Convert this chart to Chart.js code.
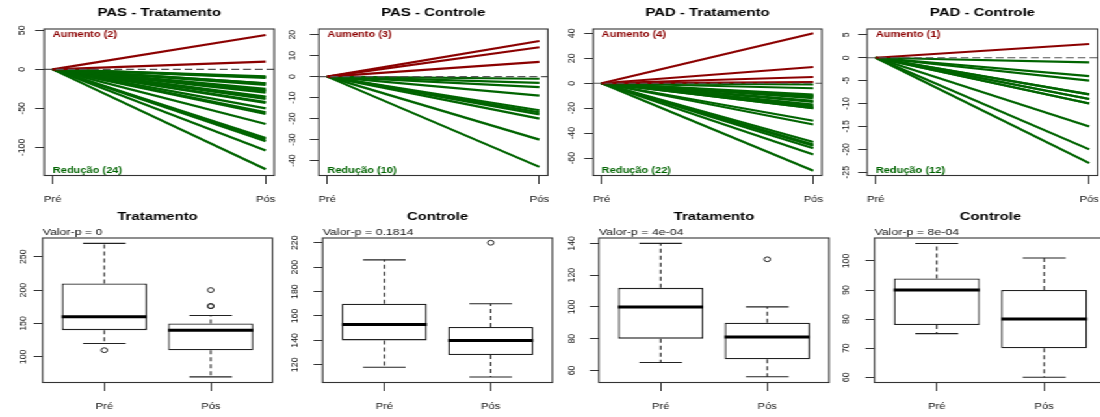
<!DOCTYPE html>
<html>
<head>
<meta charset="utf-8">
<script src="https://cdn.jsdelivr.net/npm/chart.js@4/dist/chart.umd.min.js"></script>
<style>
html,body{margin:0;padding:0;background:#fff;overflow:hidden;width:1100px;height:417px}
#wrap{position:absolute;left:0;top:0;width:880px;height:417px;transform:scaleX(1.3);transform-origin:0 0}
#wrap canvas{position:absolute;left:0;top:0}
</style>
</head>
<body>
<div id="wrap"></div>
<script>
// ---------------- DATA ----------------
const categories = ['Pré', 'Pós'];

// Top row: change (Pós - Pré) per subject, every line starts at 0
const pasTratAumento = [44, 10];
const pasTratReducao = [-9, -10, -11, -18, -18, -20, -25, -27, -28, -30, -35, -36, -38, -42, -43, -50, -55, -57, -70, -88, -90, -92, -104, -128];
const pasCtrlAumento = [17, 14, 7];
const pasCtrlReducao = [-1, -3, -5, -9, -16, -17, -18, -20, -30, -43];
const padTratAumento = [40, 13, 5, 1];
const padTratReducao = [-1, -4, -9, -10, -10, -11, -12, -14, -15, -17, -18, -19, -20, -20, -30, -33, -47, -49, -50, -52, -57, -70];
const padCtrlAumento = [3];
const padCtrlReducao = [-1, -4, -5, -8, -8, -9, -9, -10, -10, -15, -20, -23];

const pasTratTicks = [-100, -50, 0, 50];
const pasCtrlTicks = [-40, -30, -20, -10, 0, 10, 20];
const padTratTicks = [-60, -40, -20, 0, 20, 40];
const padCtrlTicks = [-25, -20, -15, -10, -5, 0, 5];

// Bottom row boxplots: [lower whisker, Q1, median, Q3, upper whisker]
const pasTratPre = [120, 140, 160, 210, 270];
const pasTratPreOut = [110];
const pasTratPos = [70, 110, 140, 150, 162];
const pasTratPosOut = [176, 176, 200];
const pasCtrlPre = [118, 140, 153, 170, 206];
const pasCtrlPreOut = [];
const pasCtrlPos = [110, 128, 140, 151, 170];
const pasCtrlPosOut = [220];
const padTratPre = [65, 80, 100, 112, 140];
const padTratPreOut = [];
const padTratPos = [56, 67, 81, 90, 100];
const padTratPosOut = [130];
const padCtrlPre = [75, 78, 90, 94, 106];
const padCtrlPreOut = [];
const padCtrlPos = [60, 70, 80, 90, 101];
const padCtrlPosOut = [];

const pasTratBoxTicks = [100, 150, 200, 250];
const pasCtrlBoxTicks = [120, 140, 160, 180, 200, 220];
const padTratBoxTicks = [60, 80, 100, 120, 140];
const padCtrlBoxTicks = [60, 70, 80, 90, 100];

const topTitles = ['PAS - Tratamento', 'PAS - Controle', 'PAD - Tratamento', 'PAD - Controle'];
const bottomTitles = ['Tratamento', 'Controle', 'Tratamento', 'Controle'];
const pValues = ['0', '0.1814', '4e-04', '8e-04'];

// ---------------- LAYOUT / STYLE ----------------
const S = 1.3;            // horizontal stretch of the page
const CW = 880, CH = 417; // canvas size (design px)
const YW = 10, XH = 30;
const FONT = '"Liberation Sans", Arial, Helvetica, sans-serif';
const RED = '#8b0000', GREEN = '#006400', INK = '#111', FRAME = '#333';
const BOXWEX = 0.8, HALF = 0.4, STAPLE = 0.2;

// plot regions in page px
const topLayout = [
  {L: 44.2, R: 274.2, T: 29, B: 175.5, ylab: 22.5, ymin: -136, ymax: 51.7},
  {L: 318.8, R: 547.8, T: 29, B: 175.5, ylab: 26.8, ymin: -47.1, ymax: 22.7},
  {L: 593.2, R: 821.8, T: 29, B: 175.5, ylab: 20.8, ymin: -73.8, ymax: 43.4},
  {L: 867.2, R: 1097.8, T: 29, B: 175.5, ylab: 21.2, ymin: -25.7, ymax: 6.27}
];
const bottomLayout = [
  {L: 42.6, R: 272.4, T: 238, B: 382.5, ylab: 19.8, ymin: 61.6, ymax: 278},
  {L: 322.6, R: 552.4, T: 238, B: 382.5, ylab: 28, ymin: 105.5, ymax: 223.9},
  {L: 598.9, R: 829.1, T: 238, B: 382.5, ylab: 26.8, ymin: 52.4, ymax: 143.4},
  {L: 874.5, R: 1106.5, T: 238, B: 382.5, ylab: 28.3, ymin: 58.2, ymax: 107.9}
];

const wrap = document.getElementById('wrap');
function newCanvas() {
  const c = document.createElement('canvas');
  c.width = CW; c.height = CH;
  wrap.appendChild(c);
  return c;
}

function decor(p) {
  return {
    id: 'rDecor',
    afterDatasetsDraw(chart) {
      const {ctx, chartArea: a, scales: {x, y}} = chart;
      ctx.save();
      if (p.kind === 'lines') {
        const y0 = y.getPixelForValue(0);
        ctx.strokeStyle = '#555'; ctx.lineWidth = 1.2; ctx.setLineDash([6, 3]);
        ctx.beginPath(); ctx.moveTo(a.left, y0); ctx.lineTo(a.right, y0); ctx.stroke();
        ctx.setLineDash([]);
        const xs = x.getPixelForValue(1);
        ctx.font = `bold 8.5px ${FONT}`; ctx.textAlign = 'left'; ctx.textBaseline = 'middle';
        ctx.fillStyle = RED; ctx.fillText(`Aumento (${p.up.length})`, xs, a.top + 6);
        ctx.fillStyle = GREEN; ctx.fillText(`Redução (${p.down.length})`, xs, a.bottom - 4.5);
      }
      ctx.strokeStyle = FRAME; ctx.lineWidth = 1.1;
      ctx.strokeRect(a.left, a.top, a.right - a.left, a.bottom - a.top);
      ctx.restore();
    },
    afterDraw(chart) {
      const {ctx, chartArea: a, scales: {y}} = chart;
      ctx.save();
      ctx.fillStyle = '#000'; ctx.font = `bold 11.5px ${FONT}`;
      ctx.textAlign = 'center'; ctx.textBaseline = 'middle';
      ctx.fillText(p.title, (a.left + a.right) / 2, p.titleY);
      if (p.sub) {
        ctx.font = `9.5px ${FONT}`; ctx.textAlign = 'left'; ctx.textBaseline = 'alphabetic';
        ctx.fillStyle = INK; ctx.fillText(p.sub, a.left, p.subY);
      }
      ctx.font = `8.8px ${FONT}`; ctx.fillStyle = INK;
      ctx.textAlign = 'center'; ctx.textBaseline = 'middle';
      const lx = a.left - p.ylab / S;
      y.ticks.forEach(t => {
        const py = y.getPixelForValue(t.value);
        ctx.save(); ctx.translate(lx, py); ctx.scale(0.85, 1); ctx.rotate(-Math.PI / 2);
        ctx.fillText(String(t.value), 0, 0);
        ctx.restore();
      });
      ctx.restore();
    }
  };
}

function options(p, xMin, xMax) {
  return {
    responsive: false, animation: false, devicePixelRatio: 1, events: [],
    layout: {padding: {left: p.L / S - YW, right: CW - p.R / S, top: p.T, bottom: CH - p.B - XH}},
    plugins: {legend: {display: false}, tooltip: {enabled: false}, title: {display: false}},
    scales: {
      x: {
        type: 'linear', min: xMin, max: xMax, bounds: 'data', offset: false,
        afterFit: s => { s.height = XH; },
        afterBuildTicks: s => { s.ticks = categories.map((c, i) => ({value: i + 1})); },
        grid: {drawOnChartArea: false, drawTicks: true, tickLength: 8.5, color: FRAME, lineWidth: 1, offset: false},
        border: {display: false},
        ticks: {callback: v => categories[v - 1], font: {family: FONT, size: 8.6}, color: INK,
                padding: 10.5, maxRotation: 0, minRotation: 0, autoSkip: false}
      },
      y: {
        type: 'linear', min: p.ymin, max: p.ymax, bounds: 'data',
        afterFit: s => { s.width = YW; },
        afterBuildTicks: s => { s.ticks = p.ticks.map(v => ({value: v})); },
        grid: {drawOnChartArea: false, drawTicks: true, tickLength: 9 / S, color: FRAME, lineWidth: 1},
        border: {display: false},
        ticks: {display: false}
      }
    }
  };
}

function lineDs(v, color, order) {
  return {type: 'line', data: [{x: 1, y: 0}, {x: 2, y: v}], borderColor: color, borderWidth: 2.2,
          pointRadius: 0, fill: false, tension: 0, order};
}

function makeLineChart(p) {
  const datasets = [];
  p.down.forEach(v => datasets.push(lineDs(v, GREEN, 2)));
  p.up.forEach(v => datasets.push(lineDs(v, RED, 1)));
  new Chart(newCanvas(), {type: 'scatter', data: {datasets}, options: options(p, 0.96, 2.04), plugins: [decor(p)]});
}

function seg(points, extra, order) {
  return Object.assign({type: 'line', data: points, borderColor: '#222', borderWidth: 1.1,
                        pointRadius: 0, fill: false, tension: 0, order}, extra);
}

function makeBoxChart(p) {
  const stats = [p.pre, p.pos];
  const outs = [p.preOut, p.posOut];
  const datasets = [];
  datasets.push({type: 'bar', data: stats.map((s, i) => ({x: i + 1, y: [s[1], s[3]]})),
                 backgroundColor: '#fff', borderColor: '#222', borderWidth: 1.3, borderSkipped: false,
                 categoryPercentage: BOXWEX, barPercentage: 1, order: 5});
  stats.forEach((s, i) => {
    const c = i + 1;
    datasets.push(seg([{x: c, y: s[3]}, {x: c, y: s[4]}], {borderDash: [4, 3]}, 3));
    datasets.push(seg([{x: c, y: s[1]}, {x: c, y: s[0]}], {borderDash: [4, 3]}, 3));
    datasets.push(seg([{x: c - STAPLE, y: s[4]}, {x: c + STAPLE, y: s[4]}], {}, 3));
    datasets.push(seg([{x: c - STAPLE, y: s[0]}, {x: c + STAPLE, y: s[0]}], {}, 3));
    datasets.push(seg([{x: c - HALF, y: s[2]}, {x: c + HALF, y: s[2]}], {borderWidth: 3, borderColor: '#000'}, 1));
  });
  datasets.push({type: 'scatter', data: outs.flatMap((o, i) => o.map(v => ({x: i + 1, y: v}))),
                 pointStyle: 'circle', pointRadius: 2.4, pointBorderWidth: 1, pointBorderColor: '#222',
                 pointBackgroundColor: 'rgba(0,0,0,0)', order: 0});
  new Chart(newCanvas(), {type: 'scatter', data: {datasets}, options: options(p, 0.42, 2.58), plugins: [decor(p)]});
}

const topUp = [pasTratAumento, pasCtrlAumento, padTratAumento, padCtrlAumento];
const topDown = [pasTratReducao, pasCtrlReducao, padTratReducao, padCtrlReducao];
const topTicks = [pasTratTicks, pasCtrlTicks, padTratTicks, padCtrlTicks];
topLayout.forEach((l, i) => makeLineChart(Object.assign({}, l, {
  kind: 'lines', up: topUp[i], down: topDown[i], ticks: topTicks[i], title: topTitles[i], titleY: 12.8
})));

const bPre = [pasTratPre, pasCtrlPre, padTratPre, padCtrlPre];
const bPreOut = [pasTratPreOut, pasCtrlPreOut, padTratPreOut, padCtrlPreOut];
const bPos = [pasTratPos, pasCtrlPos, padTratPos, padCtrlPos];
const bPosOut = [pasTratPosOut, pasCtrlPosOut, padTratPosOut, padCtrlPosOut];
const bTicks = [pasTratBoxTicks, pasCtrlBoxTicks, padTratBoxTicks, padCtrlBoxTicks];
bottomLayout.forEach((l, i) => makeBoxChart(Object.assign({}, l, {
  kind: 'box', pre: bPre[i], preOut: bPreOut[i], pos: bPos[i], posOut: bPosOut[i], ticks: bTicks[i],
  title: bottomTitles[i], titleY: 216.7, sub: `Valor-p = ${pValues[i]}`, subY: 234.5
})));
</script>
</body>
</html>
